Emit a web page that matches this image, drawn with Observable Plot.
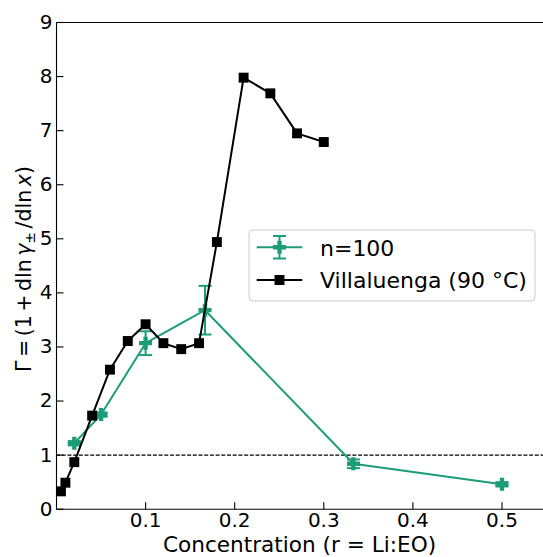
<!DOCTYPE html>
<html>
<head>
<meta charset="utf-8">
<script src="https://cdn.jsdelivr.net/npm/d3@7"></script>
<script src="https://cdn.jsdelivr.net/npm/@observablehq/plot@0.6"></script>
<style>
  html, body { margin: 0; padding: 0; background: white; }
  #chart { width: 543px; height: 557px; }
</style>
</head>
<body>
<div id="chart"></div>
<script>
// ---- Data ----
const villX = [0.005, 0.01, 0.02, 0.04, 0.06, 0.08, 0.10, 0.12, 0.14, 0.16, 0.18, 0.21, 0.24, 0.27, 0.30];
const villY = [0.33, 0.49, 0.87, 1.73, 2.58, 3.11, 3.42, 3.07, 2.96, 3.07, 4.94, 7.98, 7.69, 6.95, 6.79];

const n100X = [0.02, 0.05, 0.10, 0.1667, 0.3333, 0.50];
const n100Y = [1.22, 1.75, 3.07, 3.68, 0.84, 0.46];
const n100Err = [0.04, 0.04, 0.22, 0.45, 0.08, 0.04];

const xTicks = [0.1, 0.2, 0.3, 0.4, 0.5];
const yTicks = [0, 1, 2, 3, 4, 5, 6, 7, 8, 9];
const refLine = [1];

const seriesNames = ["n=100", "Villaluenga (90 °C)"];
const xLabel = "Concentration (r = Li:EO)";

// ---- Build tables ----
const vill = villX.map((x, i) => ({x, y: villY[i]}));
const n100 = n100X.map((x, i) => ({x, y: n100Y[i], lo: n100Y[i] - n100Err[i], hi: n100Y[i] + n100Err[i]}));

const green = "#1b9e77";
const font = "DejaVu Sans";

// custom symbols
const capSymbol = { draw(ctx, size) { const r = Math.sqrt(size / Math.PI); ctx.moveTo(-r, 0); ctx.lineTo(r, 0); } };
const tickUp = { draw(ctx, size) { const r = Math.sqrt(size / Math.PI); ctx.moveTo(0, 0); ctx.lineTo(0, -r); } };
const tickRight = { draw(ctx, size) { const r = Math.sqrt(size / Math.PI); ctx.moveTo(0, 0); ctx.lineTo(r, 0); } };

const chart = Plot.plot({
  width: 543,
  height: 557,
  marginLeft: 56,
  marginRight: 0,
  marginTop: 22,
  marginBottom: 48.3,
  x: {domain: [0, 0.5466]},
  y: {domain: [0, 9]},
  style: {fontFamily: font, fontSize: "20px", color: "black", background: "white", overflow: "visible"},
  marks: [
    Plot.ruleY(refLine, {stroke: "black", strokeWidth: 1.1, strokeDasharray: "4,1.7"}),
    // n=100 with error bars
    Plot.ruleX(n100, {x: "x", y1: "lo", y2: "hi", stroke: green, strokeWidth: 2}),
    Plot.dot(n100, {x: "x", y: "lo", symbol: capSymbol, r: 6.5, stroke: green, fill: "none", strokeWidth: 2}),
    Plot.dot(n100, {x: "x", y: "hi", symbol: capSymbol, r: 6.5, stroke: green, fill: "none", strokeWidth: 2}),
    Plot.line(n100, {x: "x", y: "y", stroke: green, strokeWidth: 2}),
    Plot.dot(n100, {x: "x", y: "y", symbol: "cross", r: 5.5, fill: green, stroke: "none"}),
    // Villaluenga
    Plot.line(vill, {x: "x", y: "y", stroke: "black", strokeWidth: 2}),
    Plot.dot(vill, {x: "x", y: "y", symbol: "square", r: 5.6, fill: "black", stroke: "none"}),
    // spines
    Plot.ruleX([0], {stroke: "black", strokeWidth: 1.1}),
    Plot.ruleY([0], {stroke: "black", strokeWidth: 1.1}),
    Plot.ruleY([9], {stroke: "black", strokeWidth: 1.1}),
    // inward ticks
    Plot.dot(xTicks, {x: d => d, y: 0, symbol: tickUp, r: 7, stroke: "black", fill: "none", strokeWidth: 1.1}),
    Plot.dot(yTicks, {x: 0, y: d => d, symbol: tickRight, r: 7, stroke: "black", fill: "none", strokeWidth: 1.1}),
    // axes labels
    Plot.axisX(xTicks, {tickSize: 0, tickPadding: 4, tickFormat: d3.format(".1f"), label: null, fill: "black"}),
    Plot.axisY(yTicks, {tickSize: 0, tickPadding: 4, tickFormat: d3.format("d"), label: null, fill: "black"})
  ]
});

document.getElementById("chart").appendChild(chart);

const svg = d3.select(chart);

// x label
svg.append("text")
  .attr("x", 299.5).attr("y", 551.7)
  .attr("text-anchor", "middle")
  .attr("font-family", font).attr("font-size", 21.6).attr("fill", "black")
  .text(xLabel);

// y label with math
const yl = svg.append("text")
  .attr("text-anchor", "start")
  .attr("font-family", font).attr("font-size", 20.5).attr("fill", "black")
  .attr("word-spacing", "-3px");
yl.append("tspan").text("Γ = (1 + dln ");
yl.append("tspan").attr("font-style", "italic").text("γ");
yl.append("tspan").attr("font-size", 14).attr("dy", 4).text("±");
yl.append("tspan").attr("dy", -4).text(" /dln ");
yl.append("tspan").attr("font-style", "italic").text("x");
yl.append("tspan").text(")");
const ylLen = yl.node().getComputedTextLength();
yl.attr("transform", `translate(30.5,${269 + ylLen / 2}) rotate(-90)`);

// legend
const lg = svg.append("g").attr("text-anchor", "start");
lg.append("rect")
  .attr("x", 249).attr("y", 230).attr("width", 286).attr("height", 71)
  .attr("rx", 4).attr("fill", "white").attr("fill-opacity", 0.8)
  .attr("stroke", "#cccccc").attr("stroke-width", 1);
const r1 = 247.3, r2 = 280, lx1 = 256.7, lx2 = 302.3, lxm = 279.5;
// row 1
lg.append("line").attr("x1", lx1).attr("x2", lx2).attr("y1", r1).attr("y2", r1).attr("stroke", green).attr("stroke-width", 2);
lg.append("line").attr("x1", lxm).attr("x2", lxm).attr("y1", 236).attr("y2", 258.5).attr("stroke", green).attr("stroke-width", 2);
lg.append("line").attr("x1", lxm - 6.5).attr("x2", lxm + 6.5).attr("y1", 236).attr("y2", 236).attr("stroke", green).attr("stroke-width", 2);
lg.append("line").attr("x1", lxm - 6.5).attr("x2", lxm + 6.5).attr("y1", 258.5).attr("y2", 258.5).attr("stroke", green).attr("stroke-width", 2);
lg.append("path").attr("transform", `translate(${lxm},${r1})`)
  .attr("d", d3.symbol(d3.symbolCross, 5.5 * 5.5 * Math.PI)()).attr("fill", green);
lg.append("text").attr("x", 320).attr("y", 255.5).attr("text-anchor", "start")
  .attr("font-family", font).attr("font-size", 22).attr("fill", "black").text(seriesNames[0]);
// row 2
lg.append("line").attr("x1", lx1).attr("x2", lx2).attr("y1", r2).attr("y2", r2).attr("stroke", "black").attr("stroke-width", 2);
lg.append("path").attr("transform", `translate(${lxm},${r2})`)
  .attr("d", d3.symbol(d3.symbolSquare, 5.6 * 5.6 * Math.PI)()).attr("fill", "black");
lg.append("text").attr("x", 320).attr("y", 288.3).attr("text-anchor", "start")
  .attr("font-family", font).attr("font-size", 22).attr("fill", "black").text(seriesNames[1]);
</script>
</body>
</html>
